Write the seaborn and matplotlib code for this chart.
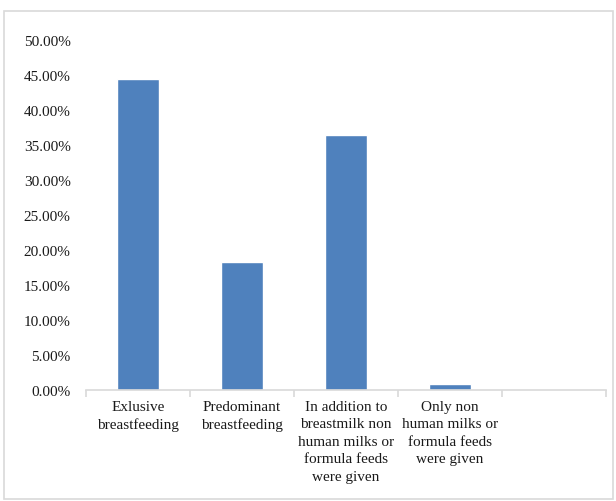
import matplotlib
matplotlib.use("Agg")
import matplotlib.pyplot as plt
import seaborn as sns
import pandas as pd
from matplotlib.patches import Rectangle
from matplotlib.ticker import FuncFormatter, FixedLocator

categories = ["Exlusive\nbreastfeeding", "Predominant\nbreastfeeding",
              "In addition to\nbreastmilk non\nhuman milks or\nformula feeds\nwere given",
              "Only non\nhuman milks or\nformula feeds\nwere given"]
all_slots = categories + [" "]
values = [44.5, 18.3, 36.5, 0.8]
yticks = [0, 5, 10, 15, 20, 25, 30, 35, 40, 45, 50]

sns.set_theme(style="white")
plt.rcParams['font.family'] = ['Liberation Serif', 'DejaVu Serif']

fig = plt.figure(figsize=(6.16, 5.02), dpi=100)
ax = fig.add_axes([86/616, 1-391/502, (606-86)/616, (391-41)/502])

df = pd.DataFrame({"cat": categories, "val": values})
sns.barplot(data=df, x="cat", y="val", order=all_slots, color="#4f81bd",
            saturation=1, width=0.4, ax=ax)

ax.set_xlim(-0.5, 4.5)
ax.set_ylim(0, 50)
ax.set_yticks(yticks)
ax.yaxis.set_major_formatter(FuncFormatter(lambda v, p: f"{v:.2f}%"))
ax.set_xlabel("")
ax.set_ylabel("")
for s in ["top", "right", "left"]:
    ax.spines[s].set_visible(False)
ax.spines["bottom"].set_color("#d9d9d9")
ax.spines["bottom"].set_linewidth(1.2)
ax.set_xticks(range(5))
ax.set_xticklabels(all_slots)
ax.xaxis.set_minor_locator(FixedLocator([-0.5, 0.5, 1.5, 2.5, 3.5, 4.5]))
ax.tick_params(axis="x", which="major", length=0, pad=7, labelsize=11, colors="#1a1a1a")
ax.tick_params(axis="x", which="minor", length=5, width=1.2, color="#d9d9d9", direction="out", bottom=True)
ax.tick_params(axis="y", length=0, pad=11, labelsize=11, colors="#1a1a1a")
for lbl in ax.get_xticklabels():
    lbl.set_verticalalignment("top")
    lbl.set_linespacing(1.45)

fig.add_artist(Rectangle((4/616, 2/502), 609/616, 488/502, transform=fig.transFigure,
                         fill=False, edgecolor="#d9d9d9", linewidth=1.2))

fig.savefig("out.png", dpi=100)
